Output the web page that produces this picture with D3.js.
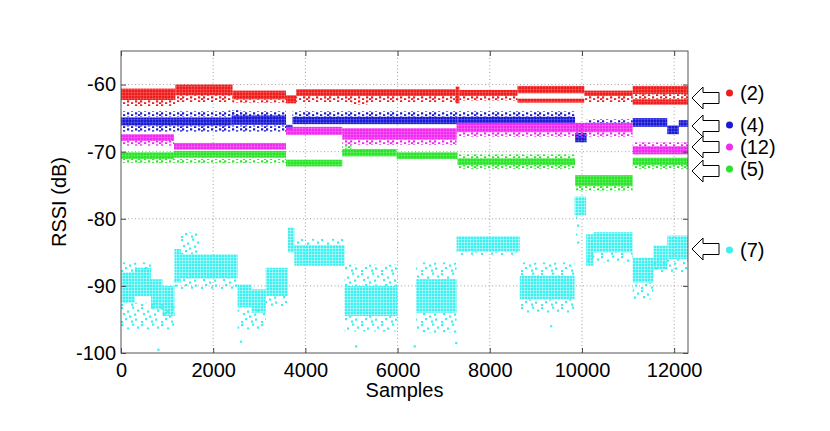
<!DOCTYPE html>
<html>
<head>
<meta charset="utf-8">
<script src="https://cdnjs.cloudflare.com/ajax/libs/d3/7.8.5/d3.min.js"></script>
<style>
html, body { margin: 0; padding: 0; background: #fff; }
svg text { font-family: "Liberation Sans", Arial, sans-serif; fill: #000; }
</style>
</head>
<body>
<svg id="chart"></svg>
<script>
var sampleTicks = [0, 2000, 4000, 6000, 8000, 10000, 12000];
var rssiTicks = [-100, -90, -80, -70, -60];
var seriesNames = ['(2)', '(4)', '(12)', '(5)', '(7)'];
var seriesColors = ['#f01c1c', '#1a1ad6', '#f02af0', '#2ae42a', '#3cf0f0'];

// runs of samples: [from sample, to sample, upper dB, lower dB]
// dense = the thick body of each run, sparse = the scattered fringe
var dense2 = [[0, 1180, -60.6, -62.3], [1180, 2420, -60.0, -61.6], [2420, 3580, -60.9, -62.2],
  [3580, 3800, -61.6, -62.8], [3800, 7260, -60.7, -61.7], [7260, 7340, -60.3, -62.8],
  [7340, 8600, -60.8, -61.7], [8600, 10050, -60.2, -61.3], [8600, 10050, -62.1, -62.7],
  [10050, 11100, -60.9, -61.7], [11100, 12300, -60.2, -61.4], [11100, 12300, -62.2, -63.0]];
var sparse2 = [[0, 1180, -62.3, -63.2], [1180, 2420, -61.6, -62.6], [2420, 3580, -62.2, -62.7],
  [3800, 7260, -61.7, -62.6], [5000, 5350, -62.6, -63.0], [7340, 8600, -61.7, -62.4],
  [10050, 11100, -61.7, -62.6], [11100, 12300, -61.4, -62.2]];

var dense4 = [[0, 2400, -64.9, -66.1], [2400, 3580, -64.6, -66.0], [3580, 3720, -66.0, -66.8],
  [3720, 7300, -64.8, -65.9], [7300, 9850, -64.8, -65.9], [9850, 10100, -67.2, -68.6],
  [11100, 11850, -65.0, -66.3], [11850, 12100, -66.1, -67.4], [12100, 12300, -65.3, -66.3]];
var sparse4 = [[0, 3580, -64.0, -64.8], [0, 3580, -66.1, -67.0], [2350, 2600, -63.8, -64.6],
  [3720, 9850, -64.0, -64.8], [10100, 11100, -65.2, -65.7], [9850, 10100, -66.0, -67.2]];

var dense12 = [[0, 1150, -67.4, -68.4], [1150, 3580, -68.7, -69.7], [3580, 4800, -66.3, -67.5],
  [4800, 7280, -66.5, -68.2], [7280, 11100, -65.7, -67.1], [11100, 12300, -69.2, -70.4]];
var sparse12 = [[0, 1150, -68.4, -69.1], [4800, 7280, -68.2, -69.0], [7280, 11100, -67.1, -67.8],
  [11100, 12300, -68.6, -69.2]];

var dense5 = [[0, 1150, -70.1, -71.1], [1150, 3580, -69.9, -70.9], [3580, 4800, -71.2, -72.2],
  [4800, 5980, -69.6, -70.7], [5980, 7300, -70.1, -71.1], [7300, 9850, -71.0, -72.0],
  [9850, 11100, -73.5, -75.1], [11100, 12300, -70.9, -72.0]];
var sparse5 = [[0, 3580, -71.1, -71.7], [4800, 5000, -69.0, -69.6], [7300, 9850, -70.4, -71.0],
  [7300, 9850, -72.0, -72.6], [9850, 11100, -75.1, -75.8], [11100, 12300, -72.0, -72.6]];

var dense7 = [[0, 300, -88.0, -92.5], [300, 650, -87.3, -91.5], [650, 900, -89.0, -93.5],
  [900, 1160, -90.0, -94.5], [1160, 1300, -84.5, -89.5], [1300, 2530, -85.3, -88.9],
  [2530, 2830, -89.8, -93.2], [2830, 3140, -90.5, -94.0], [3140, 3620, -87.3, -91.5],
  [3620, 3760, -81.3, -85.0], [3760, 4850, -83.9, -87.0], [4850, 6000, -90.0, -94.5],
  [6400, 7280, -89.0, -94.0], [7280, 8650, -82.6, -84.9], [8650, 9840, -88.5, -92.0],
  [9840, 10090, -76.7, -79.5], [10090, 10250, -82.3, -87.0], [10250, 11100, -82.0, -85.0],
  [11100, 11550, -85.8, -89.5], [11550, 11850, -84.0, -87.5], [11850, 12300, -82.5, -86.0]];
var sparse7 = [[0, 650, -86.5, -88.0], [0, 1160, -92.5, -96.5], [1160, 2530, -88.9, -90.5],
  [1300, 1700, -82.0, -85.3], [2530, 3140, -93.5, -96.5], [3140, 3620, -91.5, -93.0],
  [3760, 4850, -83.0, -83.9], [4850, 6000, -86.8, -90.0], [4850, 6000, -94.5, -96.8],
  [6400, 7280, -86.5, -89.0], [6400, 7280, -94.0, -97.0], [7280, 8650, -84.9, -85.5],
  [8650, 9840, -86.5, -88.5], [8650, 9840, -92.0, -94.0], [9870, 9960, -79.5, -84.0],
  [10090, 11100, -85.0, -86.5], [11100, 11550, -89.5, -92.0], [11550, 12300, -86.0, -88.0]];
var stray7 = [[810, -99.5], [2600, -98.3], [5100, -99.0], [6370, -99.0], [7270, -98.5], [9330, -96.0]];

var runs = [
  { name: seriesNames[0], color: seriesColors[0], dense: dense2, sparse: sparse2, stray: [] },
  { name: seriesNames[1], color: seriesColors[1], dense: dense4, sparse: sparse4, stray: [] },
  { name: seriesNames[2], color: seriesColors[2], dense: dense12, sparse: sparse12, stray: [] },
  { name: seriesNames[3], color: seriesColors[3], dense: dense5, sparse: sparse5, stray: [] },
  { name: seriesNames[4], color: seriesColors[4], dense: dense7, sparse: sparse7, stray: stray7 }
];

var svgWidth = 830, svgHeight = 431;
var plotLeft = 121, plotRight = 688, plotTop = 51, plotBottom = 353;

var svg = d3.select('#chart')
  .attr('width', svgWidth)
  .attr('height', svgHeight);

var xScale = d3.scaleLinear().domain([0, 12300]).range([plotLeft, plotRight]);
var yScale = d3.scaleLinear().domain([-100, -55]).range([plotBottom, plotTop]);

// dot textures for the scatter bands
var defs = svg.append('defs');
function dotPattern(id, color, w, h, dots, size) {
  var p = defs.append('pattern')
    .attr('id', id)
    .attr('patternUnits', 'userSpaceOnUse')
    .attr('width', w)
    .attr('height', h);
  dots.forEach(function (d) {
    p.append('rect')
      .attr('x', d[0]).attr('y', d[1])
      .attr('width', size).attr('height', size)
      .attr('fill', color);
  });
}
var thinSpecks = [[1, 0.3], [9, 0.3], [14, 0.3], [5, 2.2], [12, 2.2], [18, 2.2]];
var wideSpecks = [[1, 1], [7, 4.5], [12, 0.5], [14, 7.5], [3, 7], [9, 9.5], [17, 3.5], [5, 12], [15, 12.5], [11, 14.5], [1, 15]];
runs.forEach(function (r, i) {
  var cyan = (i === 4);
  dotPattern('dense' + i, r.color, 3, 3, [[0, 0]], cyan ? 2.6 : 2.85);
  if (cyan) dotPattern('sparse' + i, r.color, 20, 17, wideSpecks, 2.2);
  else dotPattern('sparse' + i, r.color, 21, 4, thinSpecks, 2.2);
});

defs.append('clipPath').attr('id', 'plotClip')
  .append('rect')
  .attr('x', plotLeft).attr('y', plotTop)
  .attr('width', plotRight - plotLeft).attr('height', plotBottom - plotTop);

// grid
var grid = svg.append('g').attr('class', 'grid');
grid.selectAll('line.gx')
  .data(sampleTicks.filter(function (d) { return d > 0; }))
  .enter().append('line')
  .attr('x1', function (d) { return xScale(d); })
  .attr('x2', function (d) { return xScale(d); })
  .attr('y1', plotTop).attr('y2', plotBottom)
  .attr('stroke', '#8a8a8a').attr('stroke-width', 0.8)
  .attr('stroke-dasharray', '1,2.5');
grid.selectAll('line.gy')
  .data(rssiTicks.filter(function (d) { return d > -100; }))
  .enter().append('line')
  .attr('y1', function (d) { return yScale(d); })
  .attr('y2', function (d) { return yScale(d); })
  .attr('x1', plotLeft).attr('x2', plotRight)
  .attr('stroke', '#8a8a8a').attr('stroke-width', 0.8)
  .attr('stroke-dasharray', '1,2.5');

// scatter bands
var marks = svg.append('g').attr('clip-path', 'url(#plotClip)');
runs.forEach(function (r, i) {
  var g = marks.append('g');
  g.selectAll('rect.sparse')
    .data(r.sparse)
    .enter().append('rect')
    .attr('x', function (d) { return xScale(d[0]); })
    .attr('y', function (d) { return yScale(d[2]); })
    .attr('width', function (d) { return xScale(d[1]) - xScale(d[0]); })
    .attr('height', function (d) { return yScale(d[3]) - yScale(d[2]); })
    .attr('fill', 'url(#sparse' + i + ')');
  g.selectAll('rect.dense')
    .data(r.dense)
    .enter().append('rect')
    .attr('x', function (d) { return xScale(d[0]); })
    .attr('y', function (d) { return yScale(d[2]); })
    .attr('width', function (d) { return xScale(d[1]) - xScale(d[0]); })
    .attr('height', function (d) { return yScale(d[3]) - yScale(d[2]); })
    .attr('fill', 'url(#dense' + i + ')');
  g.selectAll('rect.stray')
    .data(r.stray)
    .enter().append('rect')
    .attr('x', function (d) { return xScale(d[0]) - 1; })
    .attr('y', function (d) { return yScale(d[1]) - 1; })
    .attr('width', 2.2).attr('height', 2.2)
    .attr('fill', r.color);
});

// axes, matlab style: box with inward ticks
function plain(d) { return String(d); }
function styleAxis(sel) {
  sel.select('.domain').remove();
  sel.selectAll('.tick line').attr('stroke', '#444');
  sel.selectAll('.tick text').attr('font-size', 20);
}
var xAxis = svg.append('g')
  .attr('transform', 'translate(0,' + plotBottom + ')')
  .call(d3.axisBottom(xScale).tickValues(sampleTicks).tickSize(-5).tickPadding(9.5).tickFormat(plain));
styleAxis(xAxis);
var yAxis = svg.append('g')
  .attr('transform', 'translate(' + plotLeft + ',0)')
  .call(d3.axisLeft(yScale).tickValues(rssiTicks).tickSize(-5).tickPadding(5).tickFormat(plain));
styleAxis(yAxis);
var xTop = svg.append('g')
  .attr('transform', 'translate(0,' + plotTop + ')')
  .call(d3.axisTop(xScale).tickValues(sampleTicks).tickSize(-5).tickFormat(''));
styleAxis(xTop);
var yRight = svg.append('g')
  .attr('transform', 'translate(' + plotRight + ',0)')
  .call(d3.axisRight(yScale).tickValues(rssiTicks).tickSize(-5).tickFormat(''));
styleAxis(yRight);
svg.selectAll('.tick text').style('font-family', '"Liberation Sans", Arial, sans-serif').attr('fill', '#000');

svg.append('rect')
  .attr('x', plotLeft).attr('y', plotTop)
  .attr('width', plotRight - plotLeft).attr('height', plotBottom - plotTop)
  .attr('fill', 'none').attr('stroke', '#555').attr('stroke-width', 1);

// axis titles
svg.append('text')
  .attr('x', (plotLeft + plotRight) / 2)
  .attr('y', 397)
  .attr('text-anchor', 'middle')
  .attr('font-size', 20)
  .text('Samples');
svg.append('text')
  .attr('transform', 'translate(66,' + ((plotTop + plotBottom) / 2) + ') rotate(-90)')
  .attr('text-anchor', 'middle')
  .attr('font-size', 20)
  .text('RSSI (dB)');

// legend: arrow, dot, label
var legendArrowY = [98, 126, 147, 171, 249];
var legendLabelY = [93, 125, 147, 169, 250];
var legend = svg.append('g');
runs.forEach(function (r, i) {
  var ay = legendArrowY[i], ly = legendLabelY[i];
  var tip = 692, neck = 703, tail = 719;
  var pts = [[tip, ay], [neck, ay - 11], [neck, ay - 5.5], [tail, ay - 5.5],
    [tail, ay + 5.5], [neck, ay + 5.5], [neck, ay + 11]];
  legend.append('path')
    .attr('d', d3.line()(pts) + 'Z')
    .attr('fill', '#fff').attr('stroke', '#000').attr('stroke-width', 1);
  legend.append('circle')
    .attr('cx', 729.5).attr('cy', ly).attr('r', 3.5)
    .attr('fill', r.color);
  legend.append('text')
    .attr('x', 740).attr('y', ly)
    .attr('dy', '0.35em')
    .attr('font-size', 20)
    .text(r.name);
});
</script>
</body>
</html>
